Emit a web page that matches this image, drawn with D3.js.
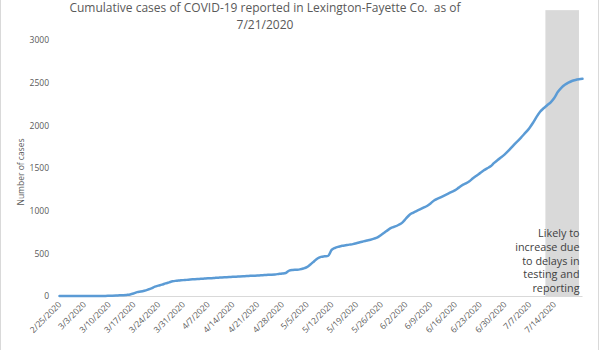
<!DOCTYPE html>
<html>
<head>
<meta charset="utf-8">
<script src="https://cdn.jsdelivr.net/npm/d3@7"></script>
<style>
  body { margin: 0; background: #fff; }
  svg { display: block; }
  text { font-family: "Open Sans", sans-serif; }
</style>
</head>
<body>
<svg id="chart" width="600" height="350"></svg>
<script>
// ---- data ----
const startDate = "2/25/2020";
const cases = [
  0,0,0,0,0,0,0,0,0,0,0,0,1,1,2,3,5,8,10,13,
  18,30,45,52,62,75,90,110,122,133,148,160,172,178,182,186,189,193,196,199,
  201,204,207,209,212,215,218,220,222,225,227,229,231,233,236,238,240,243,245,248,
  250,253,258,263,270,298,305,308,312,322,338,370,405,440,458,465,470,540,565,578,
  588,595,602,608,618,630,640,650,660,672,688,715,745,775,800,815,835,860,905,950,
  975,995,1015,1035,1055,1085,1120,1140,1160,1180,1200,1220,1240,1270,1300,1320,1345,1380,1410,1440,
  1470,1495,1520,1560,1595,1625,1660,1700,1745,1790,1830,1875,1920,1970,2030,2100,2160,2200,2235,2270,
  2320,2390,2440,2475,2500,2520,2532,2540,2545
];
const xTickLabels = ["2/25/2020","3/3/2020","3/10/2020","3/17/2020","3/24/2020","3/31/2020",
  "4/7/2020","4/14/2020","4/21/2020","4/28/2020","5/5/2020","5/12/2020","5/19/2020","5/26/2020",
  "6/2/2020","6/9/2020","6/16/2020","6/23/2020","6/30/2020","7/7/2020","7/14/2020"];
const yTicks = [0, 500, 1000, 1500, 2000, 2500, 3000];
const shadeStart = "7/12/2020";
const shadeEnd = "7/21/2020";
const shadeTop = 3350;
const titleLines = ["Cumulative cases of COVID-19 reported in Lexington-Fayette Co.  as of", "7/21/2020"];
const noteLines = ["Likely to", "increase due", "to delays in", "testing and", "reporting"];
const yTitle = "Number of cases";

// ---- chart ----
const parse = d3.timeParse("%m/%d/%Y");
const t0 = parse(startDate);
const data = cases.map((v, i) => ({ date: d3.timeDay.offset(t0, i), value: v }));

const svg = d3.select("#chart");
const W = 600, H = 350;
const plot = { left: 59.5, right: 582.5, top: 40, bottom: 296 };

const x = d3.scaleTime()
  .domain([data[0].date, data[data.length - 1].date])
  .range([plot.left, plot.right]);
const y = d3.scaleLinear().domain([0, 3000]).range([plot.bottom, plot.top]);

// outer border
svg.append("rect").attr("x", 0.5).attr("y", -5).attr("width", 598).attr("height", H + 10)
  .attr("fill", "none").attr("stroke", "#d9d9d9").attr("stroke-width", 1);

// shaded band
const sx0 = x(d3.timeHour.offset(parse(shadeStart), -12));
const sx1 = x(parse(shadeEnd));
svg.append("rect")
  .attr("x", sx0).attr("y", y(shadeTop))
  .attr("width", sx1 - sx0).attr("height", y(0) - y(shadeTop))
  .attr("fill", "#d9d9d9");

// title
svg.append("g").selectAll("text").data(titleLines).join("text")
  .attr("x", 265).attr("y", (d, i) => 12 + i * 17)
  .attr("text-anchor", "middle")
  .attr("font-family", "Lato, sans-serif")
  .attr("font-size", 12).attr("fill", "#595959")
  .style("white-space", "pre")
  .text(d => d);

// y axis labels
const yAxis = d3.axisLeft(y).tickValues(yTicks).tickSize(0).tickPadding(0).tickFormat(d3.format("d"));
const gy = svg.append("g").attr("transform", `translate(49,0)`).call(yAxis);
gy.select(".domain").remove();
gy.selectAll("text").attr("font-size", 8.5).attr("fill", "#595959")
  .attr("font-family", "Open Sans, sans-serif").attr("dy", "0.35em");

// y title
svg.append("text")
  .attr("transform", `translate(21,${(plot.top + plot.bottom) / 2 + 4}) rotate(-90)`)
  .attr("text-anchor", "middle").attr("dy", "0.35em")
  .attr("font-size", 8.5).attr("fill", "#595959")
  .text(yTitle);

// x axis
const xTickDates = xTickLabels.map(parse);
const xAxis = d3.axisBottom(x).tickValues(xTickDates).tickSize(0).tickPadding(0)
  .tickFormat((d, i) => xTickLabels[i]);
const gx = svg.append("g").attr("transform", `translate(0,${plot.bottom})`).call(xAxis);
gx.select(".domain").attr("stroke", "#d9d9d9").attr("stroke-width", 1)
  .attr("d", `M${plot.left},0.5H${plot.right}`);
gx.selectAll("text")
  .attr("font-size", 8.5).attr("fill", "#595959")
  .attr("font-family", "Open Sans, sans-serif")
  .attr("text-anchor", "end")
  .attr("dy", null).attr("y", 0)
  .attr("transform", "translate(2,9) rotate(-45)");

// line
const line = d3.line().x(d => x(d.date)).y(d => y(d.value)).curve(d3.curveMonotoneX);
svg.append("path").datum(data)
  .attr("d", line).attr("fill", "none")
  .attr("stroke", "#5b9bd5").attr("stroke-width", 2.5)
  .attr("stroke-linejoin", "round").attr("stroke-linecap", "round");

// note text
svg.append("g").selectAll("text").data(noteLines).join("text")
  .attr("x", 579.5).attr("y", (d, i) => y(0) - 59 + i * 13.8)
  .attr("text-anchor", "end")
  .attr("font-family", "Lato, sans-serif")
  .attr("font-size", 10.8).attr("fill", "#404040")
  .text(d => d);
</script>
</body>
</html>
